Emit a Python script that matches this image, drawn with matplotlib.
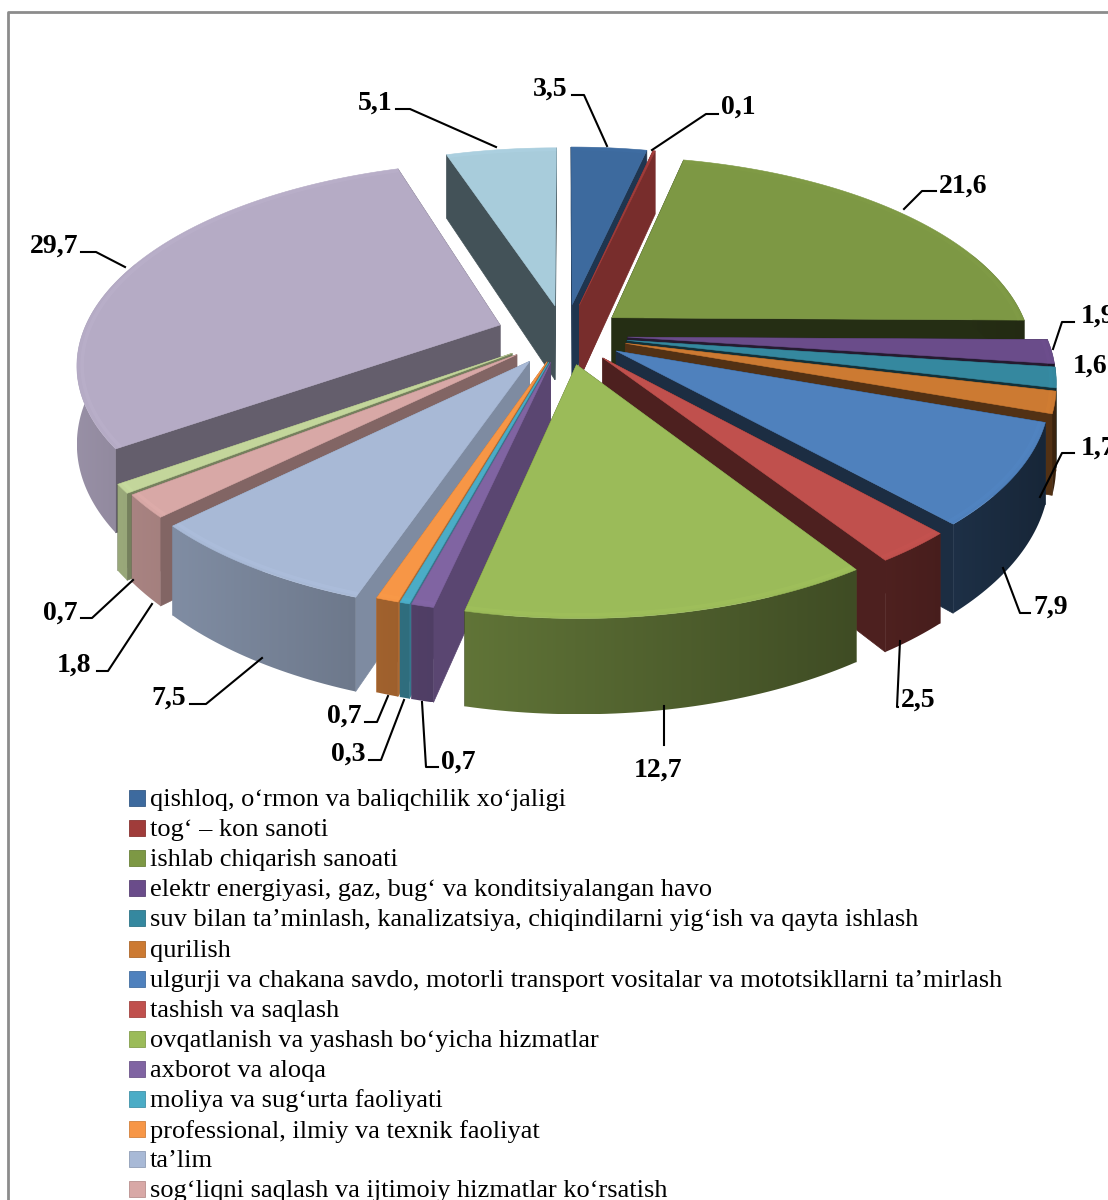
import numpy as np
import matplotlib
matplotlib.use('Agg')
import matplotlib.pyplot as plt
from matplotlib.patches import Polygon, Rectangle

plt.rcParams['font.family'] = ['Liberation Serif', 'DejaVu Serif']

sectors = ["qishloq, o‘rmon va baliqchilik xo‘jaligi",
           "tog‘ – kon sanoti",
           "ishlab chiqarish sanoati",
           "elektr energiyasi, gaz, bug‘ va konditsiyalangan havo",
           "suv bilan ta’minlash, kanalizatsiya, chiqindilarni yig‘ish va qayta ishlash",
           "qurilish",
           "ulgurji va chakana savdo, motorli transport vositalar va mototsikllarni ta’mirlash",
           "tashish va saqlash",
           "ovqatlanish va yashash bo‘yicha hizmatlar",
           "axborot va aloqa",
           "moliya va sug‘urta faoliyati",
           "professional, ilmiy va texnik faoliyat",
           "ta’lim",
           "sog‘liqni saqlash va ijtimoiy hizmatlar ko‘rsatish"]
values = [3.5, 0.1, 21.6, 1.9, 1.6, 1.7, 7.9, 2.5, 12.7, 0.7, 0.3, 0.7, 7.5, 1.8, 0.7, 29.7, 5.1]
value_labels = ['3,5', '0,1', '21,6', '1,9', '1,6', '1,7', '7,9', '2,5', '12,7',
                '0,7', '0,3', '0,7', '7,5', '1,8', '0,7', '29,7', '5,1']
colors = ['#3d6a9e', '#a03c3a', '#7d9844', '#6a4c8a', '#35889f', '#cc7a32', '#4f81bd', '#c0504d',
          '#9bbb59', '#8064a2', '#4bacc6', '#f79646', '#a8b9d6', '#d8a8a6', '#c3d69b', '#b5abc5', '#a8ccdb']

# look of the pie, not data
explode = [0.16, 0.16, 0.145, 0.15, 0.15, 0.15, 0.145, 0.145, 0.15, 0.14, 0.14, 0.14, 0.155, 0.15, 0.155, 0.165, 0.155]
wall_shade = [0.5, 0.75, 0.3, 0.35, 0.35, 0.4, 0.35, 0.4, 0.45, 0.7, 0.7, 0.7, 0.75, 0.6, 0.6, 0.55, 0.4]
cx, cy = 565, 335
a, b, persp, depth = 418, 196, 0.18, 76

# value label (x, y) and leader line (start x, elbow x, elbow y, end x, end y)
label_pos = [(550, 87), (738, 105), (963, 184), (1098, 314), (1090, 364), (1098, 446), (1051, 605),
             (918, 698), (658, 768), (458, 760), (348, 752), (344, 714), (169, 696), (74, 663),
             (60, 611), (54, 244), (375, 101)]
leaders = [(572, 584, 95, 607, 146), (718, 706, 114, 652, 150), (936, 922, 191, 904, 209),
           (1074, 1062, 322, 1053, 349), None, (1074, 1062, 453, 1040, 497),
           (1030, 1020, 613, 1003, 568), (898, 897, 707, 900, 641), (664, 664, 745, 664, 706),
           (438, 426, 767, 422, 702), (369, 381, 760, 404, 700), (365, 377, 722, 388, 696),
           (190, 206, 704, 262, 658), (97, 108, 671, 152, 604), (81, 92, 618, 133, 580),
           (81, 96, 252, 125, 267), (396, 410, 109, 496, 147)]


def shade(col, f):
    return np.clip(np.array(matplotlib.colors.to_rgb(col)) * f, 0, 1)


def project(off, r, theta, z=0.0):
    x = off[0] + r * np.sin(theta)
    v = off[1] - r * np.cos(theta)
    s = 1 / (1 - persp * v)
    return np.column_stack([cx + a * x * s, cy + b * v * s + depth * z * s])


fig = plt.figure(figsize=(11.08, 12), dpi=100)
ax = fig.add_axes([0, 0, 1, 1])

ax.plot([1108, 8, 8], [12, 12, 1200], color='#8c8c8c', lw=2, zorder=0)

edges = np.cumsum([0] + values) / 100 * 2 * np.pi
mids = (edges[:-1] + edges[1:]) / 2
order = np.argsort(-np.cos(mids))

for i in order:
    t0, t1, m = edges[i], edges[i + 1], mids[i]
    off = (explode[i] * np.sin(m), -explode[i] * np.cos(m))
    n = max(int((t1 - t0) * 60), 3)
    th = np.linspace(t0, t1, n + 1)
    ra = np.ones_like(th)
    col = colors[i]
    wall_c = shade(col, wall_shade[i])

    # the two straight walls
    for t in (t0, t1):
        p0 = project(off, 0, t)[0]
        p1 = project(off, 1, t)[0]
        q1 = project(off, 1, t, 1)[0]
        q0 = project(off, 0, t, 1)[0]
        ax.add_patch(Polygon([p0, p1, q1, q0], fc=wall_c, ec=wall_c, lw=0.5, zorder=2))

    # outer wall, the back of it is hidden by the top face drawn after
    top = project(off, ra, th)
    bot = project(off, ra, th, 1)
    front = np.cos(th) < 0.35
    if front.sum() > 1:
        wall_xy = np.vstack([top[front], bot[front][::-1]])
        x0, x1 = wall_xy[:, 0].min(), wall_xy[:, 0].max()
        y0, y1 = wall_xy[:, 1].min(), wall_xy[:, 1].max()
        us = np.sin(th[front])
        f = np.linspace(0.56 - 0.28 * us.min(), 0.56 - 0.28 * us.max(), 64)
        grad = np.array([[shade(col, v) for v in f]])
        clip = Polygon(wall_xy, fc='none', ec='none', transform=ax.transData)
        ax.add_patch(clip)
        im = ax.imshow(grad, extent=(x0, x1, y1, y0), aspect='auto', zorder=2, interpolation='bilinear')
        im.set_clip_path(clip)

    # top face
    apex = project(off, 0, m)
    poly = np.vstack([apex, top])
    ax.add_patch(Polygon(poly, fc=col, ec=col, lw=0.4, zorder=2))
    rim = project(off, ra * 0.988, th)
    ax.plot(rim[:, 0], rim[:, 1], color=shade(col, 1.1), lw=2.5, alpha=0.2, zorder=2,
            solid_capstyle='butt')

for i, (lx, ly) in enumerate(label_pos):
    ax.text(lx, ly + 2, value_labels[i], fontsize=20, fontweight='bold', ha='center', va='center',
            color='black', zorder=4, clip_on=True)
    if leaders[i] is not None:
        sx, ex, ey, tx, ty = leaders[i]
        ax.plot([sx, ex, tx], [ey, ey, ty], color='black', lw=1.5, zorder=3)

# legend is cut by the lower edge of the picture
for k, name in enumerate(sectors):
    y = 798 + k * 30.1
    c = colors[k]
    ax.add_patch(Rectangle((129, y - 8), 16, 16, fc=c, ec=shade(c, 0.85), lw=0.6, zorder=3))
    ax.text(150, y + 2, name, fontsize=19, va='center', ha='left', color='black', zorder=4, clip_on=True)

ax.set_xlim(0, 1108)
ax.set_ylim(1200, 0)
ax.axis('off')

fig.savefig('out.png', dpi=100)
